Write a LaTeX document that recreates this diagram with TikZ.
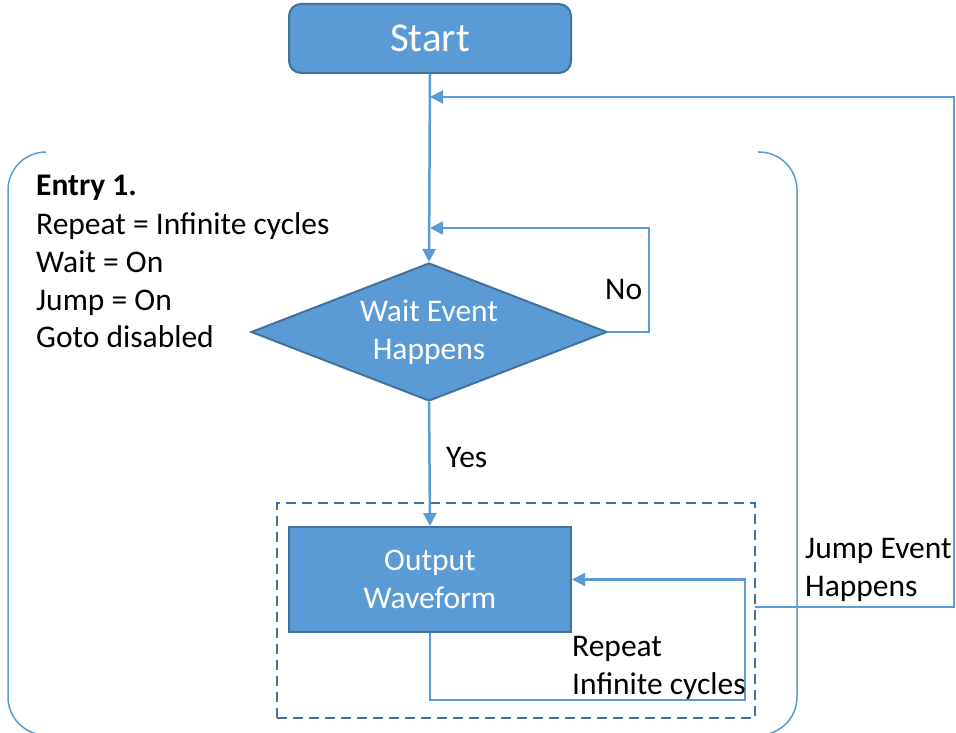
\documentclass[tikz,border=0pt]{standalone}
\usepackage{fontspec}
\setmainfont{Carlito}
\usetikzlibrary{arrows.meta,shapes.geometric}
\definecolor{fillb}{HTML}{5B9BD5}
\definecolor{edgeb}{HTML}{41719C}
\begin{document}
\begin{tikzpicture}[x=1pt,y=-1pt,
  conn/.style={draw=fillb,line width=2.5pt},
  arr/.style={conn,-{Triangle[length=13pt,width=13pt]}},
  brk/.style={draw=fillb,line width=1.5pt,rounded corners=38pt},
  lbl/.style={font=\fontsize{31.5}{38}\selectfont,inner sep=0pt,anchor=base west},
  boxtext/.style={text=white,font=\fontsize{31.5}{38}\selectfont,align=center,inner sep=0pt},
  startbox/.style={boxtext,fill=fillb,draw=edgeb,line width=2pt,rounded corners=12pt,
    minimum width=282pt,minimum height=69pt,font=\fontsize{41}{46}\selectfont},
  decbox/.style={boxtext,diamond,aspect=2.58,fill=fillb,draw=edgeb,line width=2pt,
    minimum width=356pt,minimum height=138pt},
  procbox/.style={boxtext,fill=fillb,draw=edgeb,line width=2pt,
    minimum width=282pt,minimum height=105pt},
  dashbox/.style={draw=edgeb,line width=2pt,dash pattern=on 10pt off 6pt,
    minimum width=478pt,minimum height=215pt,inner sep=0pt}]
\useasboundingbox (0,0) rectangle (956,733);
% brackets
\draw[brk] (46,152) -- (8,152) -- (8,735) -- (46,735);
\draw[brk] (758,152) -- (797,152) -- (797,735) -- (758,735);
% nodes
\node[startbox] (start) at (430,38.5) {Start};
\node[decbox] (wait) at (429,332) {Wait Event\\Happens};
\node[procbox] (out) at (430,579.5) {Output\\Waveform};
\node[dashbox] (dbox) at (516,610.5) {};
\coordinate (j1) at (430,97);
\coordinate (j2) at (430,228);
\coordinate (jumpout) at (755,607);
\coordinate (jr) at (954,607);
\coordinate (jt) at (954,97);
\coordinate (rp1) at (430,700);
\coordinate (rp2) at (745,700);
% connectors
\draw[arr] (start.south) -- (wait.north);
\draw[arr] (wait.east) -- ++(41,0) |- (j2);
\draw[arr] (wait.south) -- (out.north);
\draw[arr] (out.south) -- (rp1) -- (rp2) |- (out.east);
\draw[arr] (jumpout) -- (jr) -- (jt) -- (j1);
% labels
\node[lbl] (e1) at (36,195) {\textbf{Entry 1.}};
\node[lbl] (e2) at (36,234) {Repeat = Infinite cycles};
\node[lbl] (e3) at (36,272) {Wait = On};
\node[lbl] (e4) at (36,310) {Jump = On};
\node[lbl] (e5) at (36,347) {Goto disabled};
\node[lbl] (no) at (605,299) {No};
\node[lbl] (yes) at (446,467) {Yes};
\node[lbl] (rep1) at (572,656) {Repeat};
\node[lbl] (rep2) at (572,694) {Infinite cycles};
\node[lbl] (jmp1) at (805,558) {Jump Event};
\node[lbl] (jmp2) at (805,596) {Happens};
\end{tikzpicture}
\end{document}
